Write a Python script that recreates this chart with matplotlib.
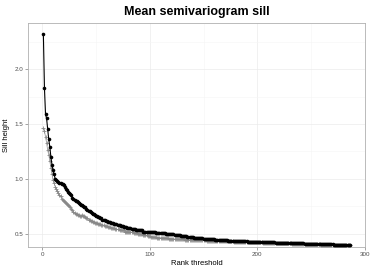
import matplotlib
matplotlib.use("Agg")
import matplotlib.pyplot as plt
from matplotlib.ticker import MultipleLocator

# rank thresholds 1..286
ranks = list(range(1, 287))

# mean sill, black series (filled circles)
sill_black = [
    2.32, 1.83, 1.59, 1.55, 1.45, 1.36, 1.29, 1.20, 1.13, 1.08,
    1.04, 1.00, 0.99, 0.98, 0.97, 0.96, 0.96, 0.95, 0.95, 0.94,
    0.93, 0.91, 0.90, 0.88, 0.87, 0.86, 0.85, 0.83, 0.82, 0.81,
    0.80, 0.80, 0.79, 0.78, 0.77, 0.76, 0.76, 0.75, 0.74, 0.74,
    0.73, 0.72, 0.71, 0.71, 0.70, 0.69, 0.68, 0.68, 0.67, 0.66,
    0.66, 0.65, 0.65, 0.64, 0.64, 0.63, 0.63, 0.63, 0.62, 0.62,
    0.61, 0.61, 0.61, 0.60, 0.60, 0.60, 0.59, 0.59, 0.59, 0.58,
    0.58, 0.58, 0.57, 0.57, 0.57, 0.56, 0.56, 0.56, 0.55, 0.55,
    0.55, 0.55, 0.54, 0.54, 0.54, 0.54, 0.53, 0.53, 0.53, 0.53,
    0.53, 0.53, 0.53, 0.52, 0.52, 0.52, 0.52, 0.52, 0.52, 0.52,
    0.518, 0.516, 0.515, 0.513, 0.512, 0.511, 0.510, 0.509, 0.508, 0.507,
    0.506, 0.505, 0.504, 0.503, 0.502, 0.501, 0.500, 0.499, 0.498, 0.497,
    0.495, 0.494, 0.492, 0.491, 0.489, 0.488, 0.487, 0.486, 0.484, 0.483,
    0.481, 0.480, 0.478, 0.476, 0.475, 0.473, 0.472, 0.470, 0.469, 0.467,
    0.466, 0.465, 0.464, 0.463, 0.462, 0.461, 0.460, 0.459, 0.458, 0.457,
    0.456, 0.455, 0.454, 0.453, 0.452, 0.451, 0.450, 0.449, 0.448, 0.448,
    0.447, 0.446, 0.445, 0.445, 0.444, 0.443, 0.442, 0.442, 0.441, 0.440,
    0.440, 0.439, 0.438, 0.438, 0.437, 0.436, 0.436, 0.435, 0.435, 0.434,
    0.434, 0.433, 0.433, 0.432, 0.432, 0.431, 0.431, 0.430, 0.430, 0.430,
    0.429, 0.429, 0.428, 0.428, 0.428, 0.427, 0.427, 0.427, 0.426, 0.426,
    0.426, 0.425, 0.425, 0.425, 0.424, 0.424, 0.424, 0.423, 0.423, 0.423,
    0.422, 0.422, 0.422, 0.421, 0.421, 0.421, 0.420, 0.420, 0.420, 0.419,
    0.419, 0.419, 0.418, 0.418, 0.418, 0.417, 0.417, 0.417, 0.416, 0.416,
    0.416, 0.415, 0.415, 0.415, 0.414, 0.414, 0.414, 0.413, 0.413, 0.413,
    0.412, 0.412, 0.412, 0.411, 0.411, 0.411, 0.410, 0.410, 0.410, 0.409,
    0.409, 0.409, 0.408, 0.408, 0.408, 0.407, 0.407, 0.407, 0.406, 0.406,
    0.406, 0.405, 0.405, 0.405, 0.404, 0.404, 0.404, 0.403, 0.403, 0.403,
    0.402, 0.402, 0.402, 0.401, 0.401, 0.401, 0.400, 0.400, 0.400, 0.400,
    0.399, 0.399, 0.399, 0.398, 0.398, 0.398,
]

# mean sill, grey series (plus markers)
sill_grey = [
    1.46, 1.44, 1.38, 1.33, 1.26, 1.22, 1.16, 1.10, 1.04, 0.99,
    0.96, 0.93, 0.91, 0.89, 0.87, 0.85, 0.84, 0.82, 0.81, 0.80,
    0.79, 0.78, 0.77, 0.76, 0.75, 0.74, 0.73, 0.72, 0.70, 0.69,
    0.68, 0.68, 0.67, 0.67, 0.66, 0.66, 0.67, 0.66, 0.66, 0.65,
    0.64, 0.64, 0.63, 0.63, 0.62, 0.62, 0.61, 0.61, 0.60, 0.60,
    0.60, 0.59, 0.59, 0.59, 0.58, 0.58, 0.58, 0.57, 0.57, 0.57,
    0.56, 0.56, 0.56, 0.55, 0.55, 0.55, 0.55, 0.54, 0.54, 0.54,
    0.54, 0.53, 0.53, 0.53, 0.53, 0.53, 0.52, 0.52, 0.52, 0.52,
    0.518, 0.516, 0.514, 0.512, 0.510, 0.508, 0.506, 0.504, 0.502, 0.500,
    0.498, 0.496, 0.494, 0.492, 0.490, 0.488, 0.485, 0.482, 0.479, 0.476,
    0.474, 0.472, 0.471, 0.469, 0.468, 0.467, 0.466, 0.465, 0.464, 0.463,
    0.462, 0.461, 0.460, 0.460, 0.459, 0.458, 0.458, 0.457, 0.456, 0.455,
    0.455, 0.454, 0.453, 0.453, 0.452, 0.451, 0.451, 0.450, 0.449, 0.449,
    0.448, 0.448, 0.447, 0.447, 0.446, 0.446, 0.445, 0.445, 0.444, 0.444,
    0.443, 0.443, 0.442, 0.442, 0.441, 0.441, 0.441, 0.440, 0.440, 0.440,
    0.439, 0.439, 0.438, 0.438, 0.437, 0.437, 0.437, 0.436, 0.436, 0.436,
    0.435, 0.435, 0.434, 0.434, 0.434, 0.433, 0.433, 0.433, 0.432, 0.432,
    0.432, 0.431, 0.431, 0.431, 0.430, 0.430, 0.430, 0.429, 0.429, 0.429,
    0.428, 0.428, 0.428, 0.427, 0.427, 0.427, 0.426, 0.426, 0.426, 0.425,
    0.425, 0.425, 0.424, 0.424, 0.424, 0.423, 0.423, 0.423, 0.422, 0.422,
    0.422, 0.421, 0.421, 0.421, 0.420, 0.420, 0.420, 0.419, 0.419, 0.419,
    0.418, 0.418, 0.418, 0.417, 0.417, 0.417, 0.416, 0.416, 0.416, 0.415,
    0.415, 0.415, 0.414, 0.414, 0.414, 0.413, 0.413, 0.413, 0.412, 0.412,
    0.412, 0.411, 0.411, 0.411, 0.410, 0.410, 0.410, 0.409, 0.409, 0.409,
    0.408, 0.408, 0.408, 0.407, 0.407, 0.407, 0.406, 0.406, 0.406, 0.405,
    0.405, 0.405, 0.404, 0.404, 0.404, 0.403, 0.403, 0.403, 0.402, 0.402,
    0.402, 0.401, 0.401, 0.401, 0.400, 0.400, 0.400, 0.399, 0.399, 0.399,
    0.398, 0.398, 0.398, 0.397, 0.397, 0.397, 0.396, 0.396, 0.396, 0.396,
    0.395, 0.395, 0.395, 0.395, 0.394, 0.394,
]

x_ticks = [0, 100, 200, 300]
y_ticks = [0.5, 1.0, 1.5, 2.0]

plt.rcParams['font.family'] = ['Liberation Sans', 'DejaVu Sans']

fig = plt.figure(figsize=(3.74, 2.8), dpi=100)
ax = fig.add_axes([0.075, 0.118, 0.901, 0.800])

# grey series first, black on top
ax.plot(ranks, sill_grey, color='#888888', lw=0.5, marker='+', ms=3.5,
        mew=0.6, zorder=3)
ax.plot(ranks, sill_black, color='black', lw=0.8, marker='o', ms=2.6,
        mew=0, zorder=4)

ax.set_xlim(-13.25, 300.25)
ax.set_ylim(0.38, 2.42)
ax.set_xticks(x_ticks)
ax.set_yticks(y_ticks)
ax.set_yticklabels([f"{v:.1f}" for v in y_ticks])
ax.xaxis.set_minor_locator(MultipleLocator(50))
ax.yaxis.set_minor_locator(MultipleLocator(0.25))

ax.grid(which='major', color='#ebebeb', lw=0.5, zorder=0)
ax.grid(which='minor', color='#f5f5f5', lw=0.4, zorder=0)
ax.set_axisbelow(True)
for s in ax.spines.values():
    s.set_color('#b0b0b0')
    s.set_linewidth(0.6)

ax.tick_params(which='major', length=2, width=0.5, color='#7f7f7f',
               labelsize=4.5, labelcolor='#4d4d4d', pad=1.5)
ax.tick_params(which='minor', length=0)

ax.set_xlabel("Rank threshold", fontsize=5.5, labelpad=2)
ax.set_ylabel("Sill height", fontsize=5.5, labelpad=3)
ax.set_title("Mean semivariogram sill", fontsize=9, fontweight='bold',
             pad=6)

fig.savefig("out.png", dpi=100)
